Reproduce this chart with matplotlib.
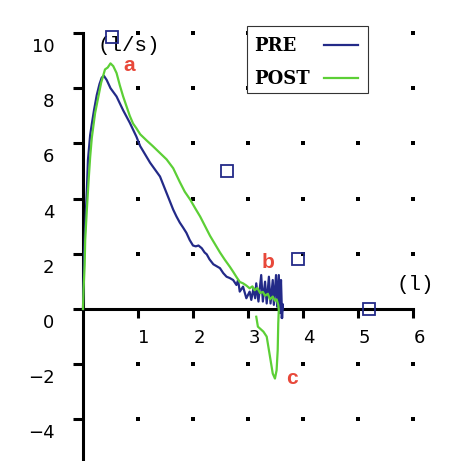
import matplotlib
matplotlib.use("Agg")
import matplotlib.pyplot as plt
import matplotlib.transforms as mtransforms
from matplotlib.patches import Rectangle
from matplotlib.lines import Line2D

# flow-volume data: volume (l), flow (l/s)
pre_vol = [0.0, 0.01, 0.02, 0.04, 0.07, 0.09, 0.13, 0.16, 0.20, 0.25, 0.30, 0.34, 0.38,
           0.43, 0.50, 0.61, 0.73, 0.85, 0.97, 1.04, 1.13, 1.22, 1.31, 1.40, 1.46, 1.52,
           1.58, 1.64, 1.70, 1.76, 1.82, 1.88, 1.94, 2.00, 2.05, 2.10, 2.16, 2.21, 2.25,
           2.30, 2.37, 2.43, 2.49, 2.55, 2.61, 2.67, 2.73, 2.79, 2.82, 2.85, 2.91, 2.97,
           3.03, 3.06, 3.10, 3.13, 3.15, 3.19, 3.24, 3.27, 3.31, 3.34, 3.38, 3.41, 3.45,
           3.47, 3.51, 3.53, 3.56, 3.58, 3.60, 3.62, 3.63, 3.61]
pre_flow = [0.0, 1.0, 2.0, 3.0, 4.3, 5.4, 6.3, 6.7, 7.2, 7.75, 8.15, 8.38, 8.45,
            8.3, 8.0, 7.7, 7.2, 6.75, 6.25, 5.9, 5.6, 5.3, 5.05, 4.8, 4.5, 4.2,
            3.9, 3.6, 3.35, 3.13, 2.95, 2.76, 2.5, 2.3, 2.27, 2.3, 2.2, 2.05, 1.98,
            1.8, 1.62, 1.55, 1.48, 1.3, 1.17, 1.12, 1.05, 0.87, 1.05, 0.63, 0.81, 0.39,
            0.63, 0.33, 0.75, 0.39, 0.93, 0.27, 1.23, 0.27, 0.99, 0.2, 1.17, 0.2, 1.05,
            0.15, 1.23, 0.08, 1.23, -0.15, 1.05, -0.33, 0.18, -0.3]

post_vol = [0.0, 0.01, 0.03, 0.04, 0.07, 0.10, 0.13, 0.16, 0.22, 0.28, 0.33, 0.40, 0.45,
            0.50, 0.55, 0.61, 0.67, 0.73, 0.79, 0.85, 0.91, 0.97, 1.04, 1.16, 1.27, 1.40,
            1.52, 1.64, 1.70, 1.76, 1.85, 1.95, 2.04, 2.13, 2.22, 2.31, 2.40, 2.49, 2.58,
            2.67, 2.73, 2.79, 2.85, 2.91, 2.97, 3.03, 3.08, 3.12, 3.17, 3.22, 3.27, 3.31,
            3.36, 3.40, 3.45, 3.49, 3.52, 3.55, 3.56, 3.55, 3.54, 3.52, 3.49, 3.45, 3.40,
            3.34, 3.28, 3.18, 3.15]
post_flow = [0.0, 0.7, 1.6, 2.5, 3.6, 4.6, 5.5, 6.2, 7.1, 7.7, 8.2, 8.68, 8.75,
             8.9, 8.8, 8.55, 8.1, 7.7, 7.35, 7.0, 6.72, 6.55, 6.33, 6.1, 5.9, 5.65,
             5.42, 5.1, 4.85, 4.6, 4.25, 3.96, 3.65, 3.35, 3.0, 2.65, 2.35, 2.05, 1.78,
             1.53, 1.35, 1.16, 0.98, 0.93, 0.85, 0.75, 0.82, 0.68, 0.76, 0.58, 0.62, 0.48,
             0.55, 0.35, 0.45, 0.3, 0.35, 0.15, -0.04, -0.52, -1.49, -2.22, -2.52, -2.34, -1.73,
             -1.0, -0.82, -0.64, -0.28]

pred_vol = [0.53, 2.62, 3.9, 5.2]
pred_flow = [9.85, 5.0, 1.8, 0.0]

marks = ["a", "b", "c"]
mark_vol = [0.84, 3.36, 3.8]
mark_flow = [8.84, 1.67, -2.5]

xticks = [1, 2, 3, 4, 5, 6]
yticks = [-4, -2, 0, 2, 4, 6, 8, 10]

series_names = ["PRE", "POST"]

NAVY = "#232a88"
GREEN = "#5ccf36"
RED = "#e8483a"
W, H = 473, 461

fig = plt.figure(figsize=(W / 100, H / 100), dpi=100)
ax = fig.add_axes([0, 0, 1, 1])
ax.set_xlim(-83 / 55, (W - 83) / 55)
ax.set_ylim(-(H - 309) / 27.6, 309 / 27.6)
ax.patch.set_visible(False)

for s in ["top", "right"]:
    ax.spines[s].set_visible(False)
ax.spines["left"].set_position(("data", 0))
ax.spines["bottom"].set_position(("data", 0))
ax.spines["left"].set_bounds(-6, 10)
ax.spines["bottom"].set_bounds(0, 6)
for s in ["left", "bottom"]:
    ax.spines[s].set_linewidth(2.2)

ax.set_xticks(xticks)
ax.set_yticks(yticks)
ax.set_yticklabels([str(v).replace("-", "\u2212") for v in yticks])
ax.tick_params(axis="y", direction="out", length=7.2, width=2.2, pad=13.5, labelsize=13)
ax.tick_params(axis="x", direction="out", length=6.5, width=2.2, pad=8, labelsize=13)
for lab in ax.get_yticklabels():
    lab.set_transform(lab.get_transform() + mtransforms.ScaledTranslation(0, -0.12, fig.dpi_scale_trans))
for lab in ax.get_xticklabels():
    lab.set_transform(lab.get_transform() + mtransforms.ScaledTranslation(0.06, 0, fig.dpi_scale_trans))

# grid dots
gx = [x for x in xticks for y in yticks if y != 0]
gy = [y for x in xticks for y in yticks if y != 0]
ax.scatter(gx, gy, marker="s", s=5, color="black", linewidths=0, zorder=1)

ax.plot(pre_vol, pre_flow, color=NAVY, lw=1.6, zorder=3)
ax.plot(post_vol, post_flow, color=GREEN, lw=1.6, zorder=4)
ax.plot(pred_vol, pred_flow, ls="none", marker="s", ms=8.5, mfc="none", mec=NAVY, mew=1.3, zorder=5)

for m, xv, yv in zip(marks, mark_vol, mark_flow):
    ax.text(xv, yv, m, color=RED, fontsize=15, fontweight="bold", family="Liberation Sans",
            ha="center", va="center", zorder=6)

ax.text(0.84, 9.53, "(l/s)", fontsize=15, family="Liberation Mono", ha="center", va="center")
ax.text(6.04, 0.87, "(l)", fontsize=15, family="Liberation Mono", ha="center", va="center")

# legend box, laid out in pixels (text left-aligned, line on the right)
def fx(px):
    return px / W

def fy(py):
    return 1 - py / H

fig.patches.append(Rectangle((fx(247), fy(93)), fx(368) - fx(247), fy(26) - fy(93),
                             transform=fig.transFigure, facecolor="white",
                             edgecolor="#333333", lw=0.8, zorder=10))
for i, (name, col) in enumerate(zip(series_names, [NAVY, GREEN])):
    py = 46 + 33 * i
    fig.text(fx(254), fy(py), name, family="DejaVu Serif", fontweight="bold", fontsize=13,
             ha="left", va="center", zorder=11)
    fig.lines.append(Line2D([fx(324), fx(358)], [fy(py - 1), fy(py - 1)], color=col, lw=1.6,
                            transform=fig.transFigure, zorder=11))

fig.savefig("out.png", dpi=100)
